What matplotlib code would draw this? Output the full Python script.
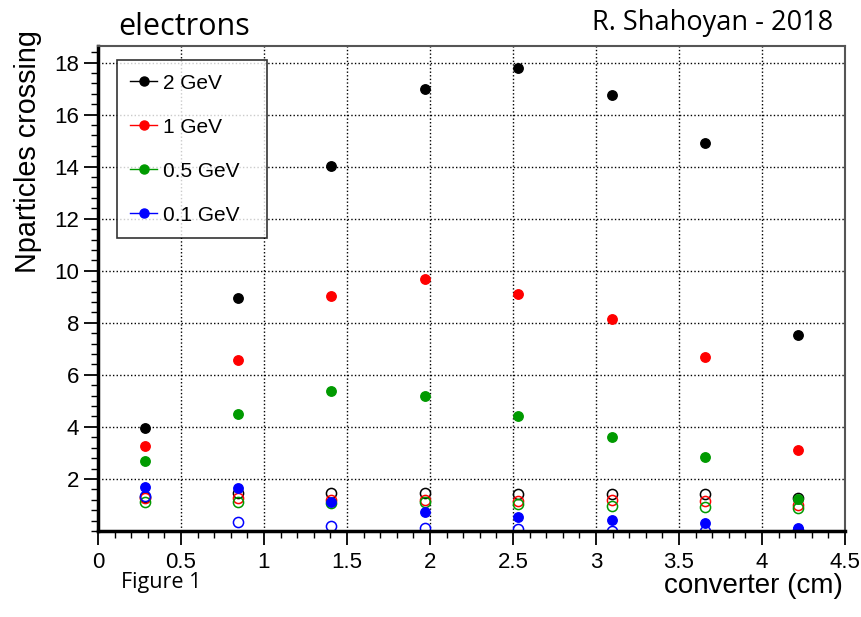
import numpy as np
import matplotlib
matplotlib.use('Agg')
import matplotlib.pyplot as plt
from matplotlib.ticker import MultipleLocator


# converter thickness (cm)
thick = [0.28125, 0.84375, 1.40625, 1.96875, 2.53125, 3.09375, 3.65625, 4.21875]

# filled markers: particles crossing per beam energy
n_2gev = [3.96, 8.96, 14.01, 16.99, 17.78, 16.74, 14.92, 7.55]
n_1gev = [3.28, 6.58, 9.03, 9.67, 9.12, 8.15, 6.67, 3.12]
n_05gev = [2.69, 4.50, 5.39, 5.19, 4.42, 3.63, 2.83, 1.23]
n_01gev = [1.68, 1.64, 1.10, 0.72, 0.53, 0.42, 0.32, 0.13]

# open markers
o_2gev = [1.30, 1.46, 1.45, 1.45, 1.42, 1.42, 1.42, 1.25]
o_1gev = [1.27, 1.26, 1.19, 1.19, 1.17, 1.19, 1.14, 1.00]
o_05gev = [1.13, 1.13, 1.06, 1.10, 1.03, 0.96, 0.94, 0.87]
o_01gev = [1.35, 0.33, 0.19, 0.10, 0.09, 0.01, 0.01, 0.05]

labels = ['2 GeV', '1 GeV', '0.5 GeV', '0.1 GeV']
colors = ['black', '#ff0000', '#009a00', '#0000ff']

fig = plt.figure(figsize=(8.61, 6.17), dpi=100)
ax = fig.add_axes([0.1138, 0.1394, 0.8676, 0.7866])

for ys, c in zip([o_2gev, o_1gev, o_05gev, o_01gev], colors):
	ax.plot(thick, ys, 'o', mfc='none', mec=c, ms=7.3, mew=1.1, ls='none')

handles = []
for ys, c, lab in zip([n_2gev, n_1gev, n_05gev, n_01gev], colors, labels):
	ax.plot(thick, ys, marker='o', color=c, mfc=c, mec=c, ms=6.8, ls='none')
	handles.append(plt.Line2D([], [], color=c, lw=1, marker='o', ms=6.5, label=lab))

ax.set_xlim(0, 4.5)
ax.set_ylim(0, 18.65)

ax.xaxis.set_minor_locator(MultipleLocator(0.1))
ax.yaxis.set_minor_locator(MultipleLocator(0.4))
ax.set_xticks(np.arange(0, 4.51, 0.5))
ax.set_xticklabels(['0', '0.5', '1', '1.5', '2', '2.5', '3', '3.5', '4', '4.5'])
ax.set_yticks(np.arange(2, 18.1, 2))

ax.grid(True, which='major', color='black', ls=(0, (1, 1.6)), lw=1)
ax.set_axisbelow(True)

ax.tick_params(which='major', direction='out', length=10, width=1.3, labelsize=16)
ax.tick_params(which='minor', direction='out', length=5, width=1)
ax.tick_params(axis='x', which='major', pad=5)
ax.tick_params(axis='y', which='major', pad=3.5)
for lbl in ax.get_xticklabels() + ax.get_yticklabels():
	lbl.set_family('Liberation Sans')

ax.spines['left'].set_linewidth(2.5)
ax.spines['bottom'].set_linewidth(2.5)
for side in ['top', 'right']:
	ax.spines[side].set_color('#555555')
	ax.spines[side].set_linewidth(1.5)

fig.text(0.032, 0.952, 'Nparticles crossing', rotation=90, ha='center', va='top',
	fontsize=20.7, family='Liberation Sans')
fig.text(0.979, 0.039, 'converter (cm)', ha='right', va='baseline',
	fontsize=20, family='Liberation Sans')

leg = ax.legend(handles=handles, loc='upper left', bbox_to_anchor=(0.0254, 0.5, 0.2008, 0.4705),
	mode='expand', borderaxespad=0, frameon=True, fancybox=False, edgecolor='black',
	handlelength=1.25, handletextpad=0.3, labelspacing=1.2, borderpad=0.65,
	prop={'family': 'Liberation Sans', 'size': 15})
leg.get_frame().set_linewidth(1.2)

fig.text(0.137, 0.943, 'electrons', ha='left', va='baseline', fontsize=22, family='Open Sans')
fig.text(0.968, 0.951, 'R. Shahoyan - 2018', ha='right', va='baseline', fontsize=19.5, family='Open Sans')
fig.text(0.14, 0.047, 'Figure 1', ha='left', va='baseline', fontsize=15.5, family='Open Sans')

fig.savefig('out.png', dpi=100)
